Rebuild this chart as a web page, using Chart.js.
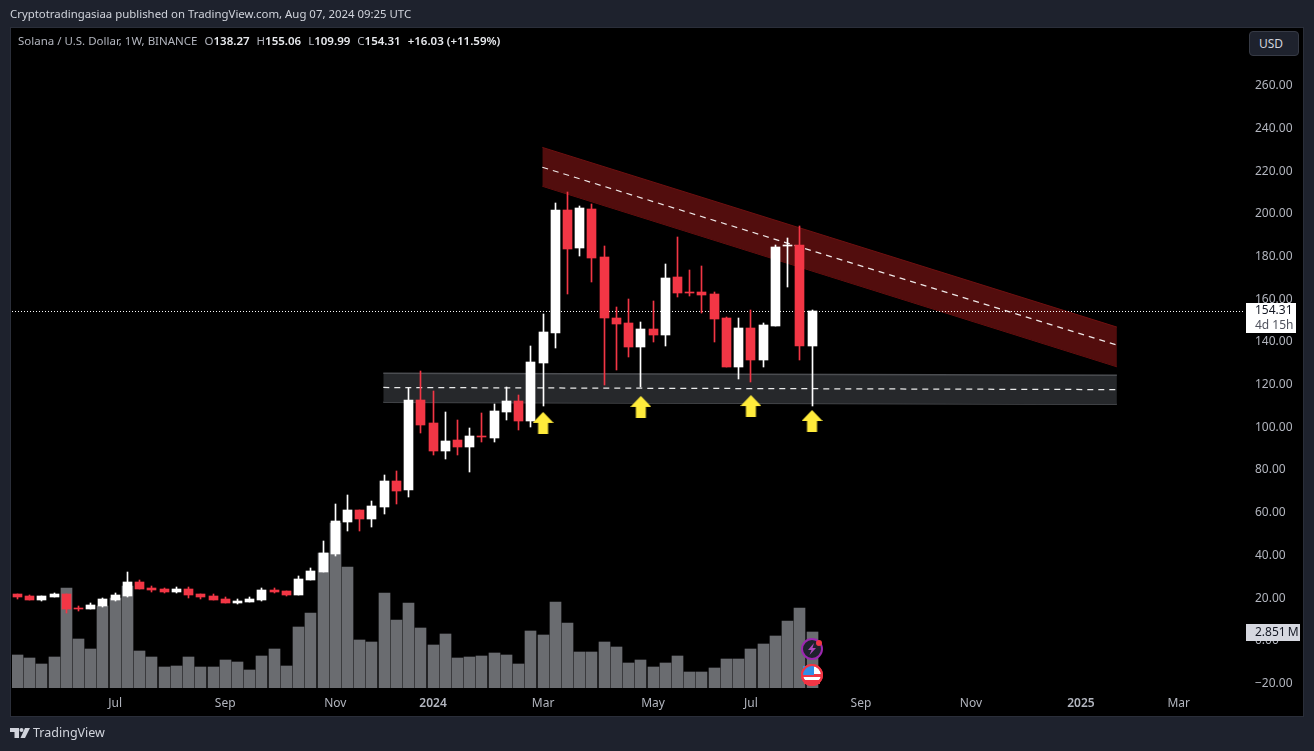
<!DOCTYPE html>
<html lang="en">
<head>
    <meta charset="UTF-8">
    <title>Solana / U.S. Dollar, 1W, BINANCE</title>
    <script src="https://cdn.jsdelivr.net/npm/chart.js"></script>
    <style>
        html, body { margin: 0; width: 1314px; height: 751px; overflow: hidden; background: #1e222d; font-family: "Noto Sans", sans-serif; }
        #panel { position: absolute; left: 10px; top: 27px; width: 1292px; height: 688px; background: #000; border: 1px solid #2a2e39; }
        #chart { position: absolute; left: 0; top: 0; }
        #publisher { position: absolute; left: 10px; top: 6px; font-size: 11.4px; line-height: 16px; color: #d1d4dc; white-space: nowrap; }
        #legend { position: absolute; left: 18px; top: 33px; font-size: 11.5px; line-height: 16px; color: #b2b5be; white-space: nowrap; }
        #legend b { color: #e8eaee; font-weight: 600; }
        #legend span { margin-left: 7px; }
        #usd { position: absolute; left: 1249px; top: 31px; width: 50px; height: 25px; box-sizing: border-box; border: 1px solid #363a45; border-radius: 4px; background: #1e222d; color: #d1d4dc; font-size: 12px; line-height: 23px; padding-left: 9px; }
        #brand { position: absolute; left: 33px; top: 724px; font-size: 12.5px; line-height: 18px; color: #d1d4dc; }
        .icon { position: absolute; }
    </style>
</head>
<body>
    <div id="panel"></div>
    <canvas id="chart" width="1314" height="751"></canvas>
    <div id="publisher">Cryptotradingasiaa published on TradingView.com, Aug 07, 2024 09:25 UTC</div>
    <div id="legend">Solana / U.S. Dollar, 1W, BINANCE<span>O<b>138.27</b></span><span>H<b>155.06</b></span><span>L<b>109.99</b></span><span>C<b>154.31</b></span><span><b>+16.03 (+11.59%)</b></span></div>
    <div id="usd">USD</div>

    <!-- event markers on the last candle -->
    <svg class="icon" style="left:800px;top:637px" width="24" height="50" viewBox="0 0 24 50">
        <circle cx="12" cy="12" r="10" fill="#1e222d" stroke="#9c27b0" stroke-width="2"/>
        <path d="M14 6 L8 13 H11.5 L9.5 18 L16 11 H12.5 Z" fill="#ab47bc"/>
        <circle cx="19" cy="6" r="3" fill="#f23645"/>
        <circle cx="12" cy="38" r="10" fill="#fff" stroke="#f23645" stroke-width="2"/>
        <path d="M3 37 H21 V40 H3 Z" fill="#f23645"/>
        <path d="M4 43 H20 V47 H4 Z" fill="#f23645"/>
        <path d="M3 29 H14 V38 H3 Z" fill="#2f8fe8"/>
        <circle cx="12" cy="38" r="10" fill="none" stroke="#f23645" stroke-width="2"/>
    </svg>

    <!-- TradingView mark -->
    <svg class="icon" style="left:10px;top:727px" width="20" height="12" viewBox="0 0 20 12">
        <path d="M0 1 H9 V11 H4.5 V5 H0 Z" fill="#d1d4dc"/>
        <circle cx="11.5" cy="3" r="2" fill="#d1d4dc"/>
        <path d="M15 1 H20 L15 11 H10.5 Z" fill="#d1d4dc"/>
    </svg>
    <div id="brand">TradingView</div>

    <script>
        // Weekly candles, week 0 is the first full candle on the left
        const opens = [21.93, 21.0, 19.1, 20.53, 21.93, 15.4, 14.9, 16.3, 19.1, 21.0, 27.55, 24.7, 24.3, 22.9, 24.3, 21.93, 21.0, 19.6, 17.7, 18.2, 19.1, 23.8, 23.3, 21.46, 28.5, 32.2, 40.7, 55.7, 61.3, 57.1, 62.7, 74.9, 70.7, 112.8, 102.1, 89.0, 94.1, 90.8, 95.9, 95.0, 107.2, 112.4, 103.0, 130.2, 144.2, 201.9, 184.1, 202.3, 179.9, 151.3, 148.9, 137.7, 146.1, 143.3, 170.5, 163.5, 163.5, 162.5, 151.3, 128.3, 146.6, 131.6, 147.5, 185.0, 185.5, 138.27];
        const highs = [21.93, 21.46, 21.0, 22.4, 21.93, 16.3, 17.7, 20.1, 22.4, 32.2, 28.5, 25.7, 24.7, 25.2, 25.2, 21.93, 21.93, 20.5, 19.6, 20.5, 24.7, 24.7, 23.3, 30.4, 34.1, 46.8, 64.1, 68.3, 61.3, 65.5, 77.7, 79.6, 118.6, 126.4, 117.1, 107.2, 103.5, 99.7, 106.7, 111.0, 118.9, 115.2, 138.1, 153.1, 205.1, 210.3, 203.8, 204.7, 185.0, 156.4, 160.2, 149.4, 159.2, 176.6, 189.2, 173.8, 175.6, 163.5, 151.7, 151.3, 155.0, 148.9, 185.5, 188.8, 194.4, 155.06];
        const lows = [19.6, 19.1, 18.65, 20.5, 13.03, 14.0, 14.9, 15.8, 18.65, 20.5, 24.3, 22.9, 22.4, 22.4, 20.05, 19.6, 19.1, 17.7, 17.25, 18.2, 18.65, 22.4, 21.0, 21.46, 28.5, 32.2, 39.7, 51.5, 51.5, 53.3, 59.4, 64.1, 67.4, 97.4, 87.1, 85.2, 87.1, 79.1, 93.2, 93.2, 103.5, 98.8, 100.2, 110.0, 137.2, 162.5, 180.3, 168.1, 119.9, 126.9, 133.0, 118.9, 140.0, 138.1, 161.1, 161.6, 153.6, 140.0, 128.3, 122.7, 121.3, 128.3, 147.5, 165.8, 131.6, 109.99];
        const closes = [20.53, 19.1, 21.0, 21.93, 14.9, 14.9, 16.8, 19.6, 21.46, 27.55, 24.3, 23.8, 22.9, 24.3, 21.46, 20.53, 19.1, 17.7, 18.65, 19.6, 23.8, 22.9, 21.46, 28.96, 32.7, 41.1, 56.1, 61.3, 57.1, 63.2, 74.9, 70.2, 112.8, 101.1, 89.0, 93.6, 90.8, 95.9, 95.5, 107.7, 112.4, 103.0, 130.6, 144.7, 201.9, 183.6, 202.8, 179.4, 151.3, 148.5, 137.7, 146.1, 143.3, 170.0, 163.0, 163.0, 162.0, 150.8, 128.3, 146.6, 131.6, 148.0, 184.5, 185.5, 138.2, 154.31];

        // Volume in millions, the first value belongs to week -1 which is cut off by the left edge
        const volumes = [1.63, 1.68, 1.53, 1.22, 1.58, 5.09, 2.49, 1.99, 4.17, 4.58, 5.19, 1.88, 1.58, 1.07, 1.12, 1.58, 1.07, 1.07, 1.43, 1.32, 0.92, 1.63, 1.99, 1.12, 3.10, 3.82, 6.87, 8.40, 6.16, 2.44, 2.34, 4.84, 3.46, 4.33, 3.05, 2.19, 2.75, 1.53, 1.58, 1.63, 1.78, 1.68, 1.22, 2.90, 2.70, 4.38, 3.31, 1.83, 1.83, 2.34, 2.09, 1.27, 1.43, 1.07, 1.27, 1.63, 0.81, 0.81, 1.02, 1.48, 1.48, 1.99, 2.24, 2.65, 3.41, 4.07, 2.851];

        const priceTicks = [-20, 0, 20, 40, 60, 80, 100, 120, 140, 160, 180, 200, 220, 240, 260];
        const timeTickWeeks = [8, 17, 26, 34, 43, 52, 60, 69, 78, 87, 95];
        const timeTickLabels = ['Jul', 'Sep', 'Nov', '2024', 'Mar', 'May', 'Jul', 'Sep', 'Nov', '2025', 'Mar'];

        // Drawings: falling red channel, grey support zone, arrows [week, price]
        const channelWeeks = [42.94, 89.94];
        const channelTop = [231.2, 147.0];
        const channelMid = [221.9, 138.6];
        const channelBottom = [213.0, 128.4];
        const zoneWeeks = [29.93, 89.94];
        const zoneTop = [125.4, 124.4];
        const zoneMid = [118.7, 117.7];
        const zoneBottom = [111.8, 110.8];
        const arrowWeeks = [43, 51, 60, 65];
        const arrowPrices = [102.1, 109.6, 110.0, 103.0];
        const lastPrice = 154.31;
        const lastVolume = 2.851;

        const WHITE = '#ffffff';
        const RED = '#f23645';
        const TICK_COLOR = '#b2b5be';
        const FONT = '"Noto Sans", sans-serif';
        const X_MIN = -0.443;
        const X_MAX = 100.42;

        const line = (xs, ys) => xs.map((x, i) => ({ x: x, y: ys[i] }));
        const isUp = i => closes[i] >= opens[i];

        // Yellow arrow used as point style
        function makeArrow() {
            const c = document.createElement('canvas');
            c.width = 21;
            c.height = 22;
            const g = c.getContext('2d');
            g.fillStyle = '#ffeb3b';
            g.beginPath();
            g.moveTo(10.5, 0);
            g.lineTo(21, 11);
            g.lineTo(15.5, 11);
            g.lineTo(15.5, 22);
            g.lineTo(5.5, 22);
            g.lineTo(5.5, 11);
            g.lineTo(0, 11);
            g.closePath();
            g.fill();
            return c;
        }

        // Keep candles and wicks on whole pixels like the original
        const snapBars = {
            id: 'snapBars',
            beforeDatasetsDraw(chart) {
                chart.getSortedVisibleDatasetMetas().forEach(meta => {
                    if (meta.type !== 'bar') return;
                    meta.data.forEach(el => {
                        el.x = Math.floor(el.x) + 0.5;
                        el.y = Math.round(el.y);
                        el.base = Math.round(el.base);
                        if (el.base === el.y) el.base = el.y + 1;
                    });
                });
            }
        };

        // Price and volume tags on the right axis
        const axisTags = {
            id: 'axisTags',
            afterDraw(chart) {
                const g = chart.ctx;
                const priceY = Math.round(chart.scales.y.getPixelForValue(lastPrice));
                const volumeY = Math.round(chart.scales.yVolume.getPixelForValue(lastVolume));
                g.save();
                g.font = '12px ' + FONT;
                g.textBaseline = 'middle';
                g.fillStyle = '#ffffff';
                g.fillRect(1246, priceY - 8, 50, 30);
                g.fillStyle = '#131722';
                g.fillText(lastPrice.toFixed(2), 1255, priceY);
                g.fillStyle = '#50535e';
                g.fillText('4d 15h', 1255, priceY + 15);
                g.fillStyle = '#d6d8e0';
                g.fillRect(1246, volumeY - 8, 54, 17);
                g.fillStyle = '#131722';
                g.fillText(lastVolume.toFixed(3) + '\u2009M', 1255, volumeY + 1);
                g.restore();
            }
        };

        new Chart(document.getElementById('chart'), {
            data: {
                datasets: [
                    {
                        type: 'bar', label: 'Volume', yAxisID: 'yVolume', order: 7,
                        data: volumes.map((v, i) => ({ x: i - 1, y: v })),
                        backgroundColor: '#6a6c70', barThickness: 11, grouped: false
                    },
                    {
                        type: 'line', label: 'Channel top', order: 6, fill: '+1',
                        data: line(channelWeeks, channelTop),
                        borderColor: '#6f1010', borderWidth: 1, backgroundColor: '#520d0d', pointRadius: 0
                    },
                    {
                        type: 'line', label: 'Channel bottom', order: 6,
                        data: line(channelWeeks, channelBottom),
                        borderColor: '#6f1010', borderWidth: 1, pointRadius: 0
                    },
                    {
                        type: 'line', label: 'Zone top', order: 6, fill: '+1',
                        data: line(zoneWeeks, zoneTop),
                        borderColor: '#4b4d51', borderWidth: 1.5, backgroundColor: '#26282b', pointRadius: 0
                    },
                    {
                        type: 'line', label: 'Zone bottom', order: 6,
                        data: line(zoneWeeks, zoneBottom),
                        borderColor: '#4b4d51', borderWidth: 1.5, pointRadius: 0
                    },
                    {
                        type: 'line', label: 'Channel middle', order: 5,
                        data: line(channelWeeks, channelMid),
                        borderColor: 'rgba(255,255,255,0.9)', borderWidth: 1.25, borderDash: [6, 5], pointRadius: 0
                    },
                    {
                        type: 'line', label: 'Zone middle', order: 5,
                        data: line(zoneWeeks, zoneMid),
                        borderColor: 'rgba(255,255,255,0.9)', borderWidth: 1.25, borderDash: [6, 5], pointRadius: 0
                    },
                    {
                        type: 'line', label: 'Last price', order: 4,
                        data: line([X_MIN, X_MAX], [lastPrice, lastPrice]),
                        borderColor: '#ffffff', borderWidth: 1, borderDash: [1, 2], pointRadius: 0
                    },
                    {
                        type: 'bar', label: 'Wicks', order: 3,
                        data: highs.map((h, i) => ({ x: i, y: [lows[i], h] })),
                        backgroundColor: highs.map((h, i) => isUp(i) ? WHITE : RED),
                        barThickness: 1, grouped: false
                    },
                    {
                        type: 'bar', label: 'Bodies', order: 2,
                        data: opens.map((o, i) => ({ x: i, y: [o, closes[i]] })),
                        backgroundColor: opens.map((o, i) => isUp(i) ? WHITE : RED),
                        barThickness: 9, grouped: false
                    },
                    {
                        type: 'line', label: 'Arrows', order: 1, showLine: false,
                        data: line(arrowWeeks, arrowPrices),
                        pointStyle: makeArrow(), pointRadius: 11
                    }
                ]
            },
            options: {
                responsive: false,
                animation: false,
                events: [],
                layout: { padding: { left: 10, top: 27, right: 11, bottom: 35 } },
                plugins: { legend: { display: false }, tooltip: { enabled: false } },
                scales: {
                    x: {
                        type: 'linear', min: X_MIN, max: X_MAX, offset: false,
                        grid: { display: false, drawTicks: false }, border: { display: false },
                        afterBuildTicks: scale => { scale.ticks = timeTickWeeks.map(w => ({ value: w })); },
                        afterFit: scale => { scale.height = 28; scale.paddingLeft = 0; scale.paddingRight = 0; },
                        ticks: {
                            autoSkip: false, maxRotation: 0, padding: 8, color: TICK_COLOR,
                            font: ctx => ({ family: FONT, size: 12, weight: ctx.tick && /^20/.test(ctx.tick.label) ? '600' : '400' }),
                            callback: value => timeTickLabels[timeTickWeeks.indexOf(value)]
                        }
                    },
                    y: {
                        position: 'right', min: -22.12, max: 287.62,
                        grid: { display: false, drawTicks: false }, border: { display: false },
                        afterBuildTicks: scale => { scale.ticks = priceTicks.map(v => ({ value: v })); },
                        afterFit: scale => { scale.width = 58; scale.paddingTop = 0; scale.paddingBottom = 0; },
                        ticks: {
                            autoSkip: false, padding: 10, color: TICK_COLOR,
                            font: { family: FONT, size: 12 },
                            callback: value => (value < 0 ? '\u2212' : '') + Math.abs(value).toFixed(2)
                        }
                    },
                    yVolume: {
                        display: false, min: 0, max: 33.65,
                        ticks: { display: false },
                        afterFit: scale => { scale.width = 0; }
                    }
                }
            },
            plugins: [snapBars, axisTags]
        });
    </script>
</body>
</html>
